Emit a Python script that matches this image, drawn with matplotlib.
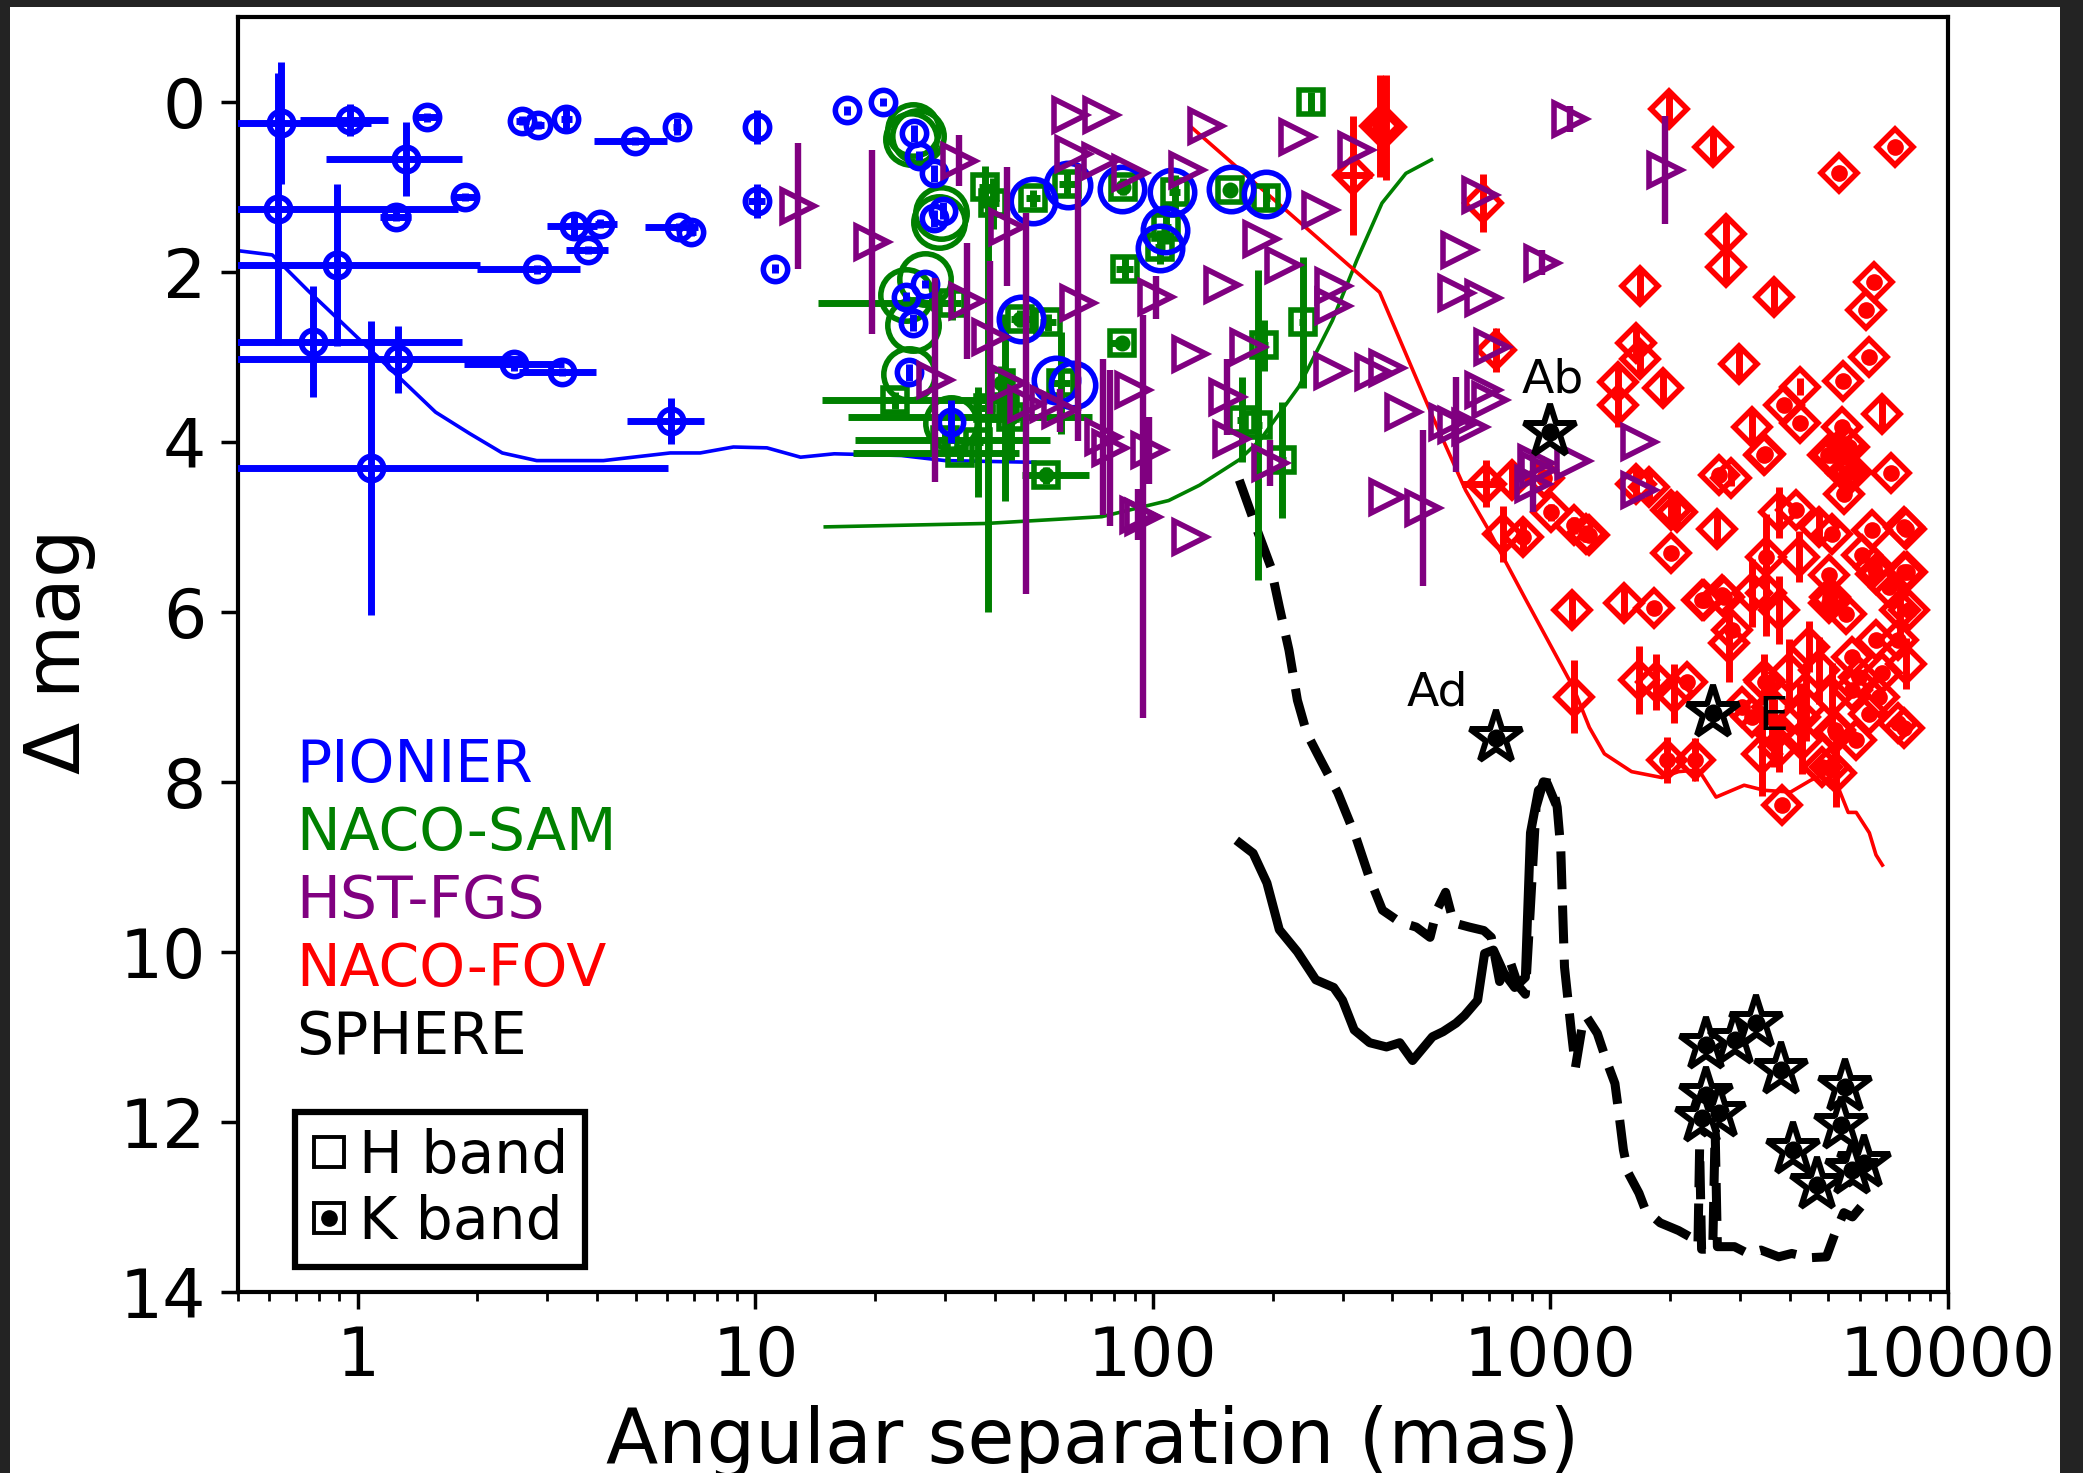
import numpy as np
import matplotlib
matplotlib.use('Agg')
import matplotlib.pyplot as plt
from matplotlib.lines import Line2D
from matplotlib.legend_handler import HandlerTuple
from matplotlib.patches import Rectangle
from matplotlib.ticker import NullFormatter, LogLocator

plt.rcParams['font.family'] = ['DejaVu Sans']

# ---------------- data ----------------
# PIONIER (H band): separation, dmag, separation lower/upper bound, dmag error
pio_sep = [0.64, 0.63, 0.955, 1.49, 1.32, 1.86, 1.25, 0.885, 2.82, 0.77, 1.26, 2.47, 3.27, 1.08,
           2.59, 2.84, 3.35, 4.97, 6.34, 3.5, 4.08, 3.79, 6.43, 6.9, 6.15, 10.1, 10.1, 11.2,
           17.0, 21.0, 25.1, 25.8, 28.2, 29.6, 28.2, 26.7, 23.9, 24.9, 24.4, 31.1]
pio_dm = [0.25, 1.26, 0.21, 0.18, 0.67, 1.12, 1.35, 1.92, 1.97, 2.82, 3.03, 3.08, 3.18, 4.31,
          0.22, 0.27, 0.20, 0.46, 0.29, 1.46, 1.43, 1.74, 1.47, 1.53, 3.75, 0.29, 1.16, 1.96,
          0.10, 0.00, 0.37, 0.63, 0.84, 1.28, 1.37, 2.14, 2.29, 2.60, 3.18, 3.76]
pio_lo = [0.40, 0.40, 0.715, 1.40, 0.83, 1.75, 1.14, 0.40, 2.0, 0.40, 0.40, 1.85, 2.54, 0.40,
          2.5, 2.75, 3.25, 3.94, 6.2, 3.0, 3.95, 3.35, 5.27, 6.7, 4.77, 9.9, 9.6, 11.0,
          16.8, 20.7, 24.8, 25.5, 27.9, 29.2, 27.9, 26.4, 23.6, 24.5, 24.0, 30.8]
pio_hi = [1.08, 1.79, 1.19, 1.58, 1.83, 1.98, 1.36, 2.03, 3.63, 1.83, 2.6, 3.3, 3.98, 6.05,
          2.7, 2.95, 3.45, 6.0, 6.5, 4.0, 4.5, 4.25, 7.17, 7.1, 7.44, 10.3, 10.6, 11.4,
          17.2, 21.3, 25.4, 26.1, 28.5, 30.0, 28.5, 27.0, 24.2, 25.3, 24.8, 31.4]
pio_err = [0.72, 1.60, 0.19, 0.05, 0.44, 0.05, 0.05, 0.95, 0.05, 0.65, 0.39, 0.08, 0.05, 1.73,
           0.05, 0.05, 0.17, 0.05, 0.10, 0.12, 0.05, 0.05, 0.05, 0.05, 0.27, 0.20, 0.20, 0.05,
           0.05, 0.05, 0.10, 0.05, 0.10, 0.10, 0.10, 0.05, 0.05, 0.10, 0.10, 0.25]

# large blue rings
ring_b_sep = [49.9, 61.2, 83.8, 112, 157, 193, 107, 104, 46.5, 57.2, 63.0]
ring_b_dm = [1.16, 0.98, 1.02, 1.06, 1.02, 1.08, 1.51, 1.72, 2.55, 3.27, 3.33]
# large green rings
ring_g_sep = [25.0, 25.6, 24.6, 29.3, 29.0, 26.7, 24.0, 24.9, 24.4, 31.0]
ring_g_dm = [0.33, 0.40, 0.44, 1.31, 1.41, 2.08, 2.27, 2.63, 3.20, 3.78]

# NACO-SAM
sam_sep = [37.8, 39.6, 50.0, 60.8, 84.1, 113.5, 156, 193, 108, 104, 85.3, 46.3, 54.5, 83.6,
           31.3, 41.6, 58.9, 44.1, 54.0, 32.7, 250, 190, 238, 168, 184, 211, 38.5, 30.0,
           22.5, 42.4, 36.3]
sam_dm = [1.00, 1.19, 1.13, 0.96, 1.00, 1.06, 1.04, 1.13, 1.47, 1.71, 1.96, 2.55, 2.59, 2.84,
          2.37, 3.31, 3.31, 3.71, 4.39, 4.13, 0.00, 2.86, 2.59, 3.74, 3.80, 4.21, 3.60, 3.98,
          3.51, 3.60, 4.00]
sam_lo = [36.5, 38.0, 48.0, 58.0, 82.0, 110, 153, 189, 105, 101, 81.0, 44.0, 52.0, 78.0,
          14.4, 39.0, 56.0, 17.1, 47.0, 17.6, 245, 185, 233, 163, 180, 206, 37.0, 17.8,
          14.7, 41.0, 35.0]
sam_hi = [39.2, 41.0, 52.0, 64.0, 86.0, 117, 159, 197, 111, 107, 89.0, 49.0, 57.0, 86.0,
          33.0, 44.0, 62.0, 70.3, 69.0, 46.0, 255, 195, 243, 173, 188, 216, 40.0, 55.0,
          42.5, 44.0, 37.5]
sam_err = [0.25, 0.30, 0.10, 0.15, 0.10, 0.20, 0.05, 0.15, 0.20, 0.20, 0.12, 0.10, 0.10, 0.05,
           0.20, 0.20, 0.60, 0.50, 0.10, 0.10, 0.12, 0.30, 0.77, 0.50, 1.82, 0.68, 2.40, 0.10,
           0.10, 1.10, 0.65]
sam_band = ['H', 'H', 'H', 'H', 'K', 'H', 'K', 'H', 'H', 'H', 'H', 'K', 'H', 'K',
            'H', 'K', 'H', 'K', 'K', 'H', 'H', 'H', 'H', 'H', 'H', 'H', 'H', 'H',
            'H', 'H', 'H']

# HST-FGS
fgs_sep = [12.8, 19.7, 32.6, 34.0, 38.9, 42.9, 63, 73.8, 62, 74, 136, 87.5, 122, 64.9, 102,
           149, 124, 89, 28.3, 58.4, 75, 78, 98, 91.6, 94.4, 124, 154, 157, 264, 324, 231,
           187, 213, 284, 284, 174, 283, 357, 387, 197, 425, 548, 627, 580, 387, 477, 664,
           590, 580, 675, 714, 675, 703, 955, 1117, 922, 1138, 902, 1945, 1674, 1674, 933,
           48, 43.3, 54.4]
fgs_dm = [1.22, 1.65, 0.69, 2.34, 2.77, 1.47, 0.61, 0.69, 0.15, 0.15, 0.28, 0.84, 0.80, 2.36,
          2.30, 2.15, 2.96, 3.39, 3.27, 3.63, 3.94, 4.07, 4.10, 4.86, 4.88, 5.12, 3.47, 3.96,
          1.27, 0.57, 0.41, 1.61, 1.92, 2.17, 2.40, 2.88, 3.16, 3.18, 3.13, 4.25, 3.65, 3.77,
          3.82, 3.80, 4.65, 4.78, 1.10, 1.74, 2.25, 2.31, 2.88, 3.39, 3.51, 1.89, 0.20, 4.25,
          4.22, 4.49, 0.80, 4.00, 4.57, 4.33, 3.55, 3.31, 3.55]
fgs_err = [0.74, 1.08, 0.30, 0.68, 0.90, 0.70, 0.0, 0.0, 0.0, 0.0, 0.0, 0.0, 0.0, 1.63, 0.25,
           0.0, 0.0, 0.0, 1.20, 0.25, 0.92, 0.92, 0.39, 0.30, 2.37, 0.0, 0.45, 0.0, 0.0, 0.0,
           0.0, 0.0, 0.0, 0.0, 0.0, 0.0, 0.0, 0.0, 0.0, 0.27, 0.0, 0.0, 0.0, 0.56, 0.0, 0.92,
           0.0, 0.0, 0.0, 0.0, 0.0, 0.0, 0.0, 0.15, 0.15, 0.0, 0.0, 0.33, 0.64, 0.0, 0.0, 0.0,
           2.24, 0.0, 0.0]

# NACO-FOV
fov_sep = [372, 385, 675, 731, 1476, 1476, 801, 759, 851, 1004, 1230, 966, 1148, 1991, 2567,
           5320, 7362, 2766, 2766, 1683, 3656, 6500, 6220, 1645, 1683, 2985, 6320, 5450, 4250,
           3870, 4250, 6840, 3216, 5420, 5520, 1918, 3475, 5000, 7190, 2660, 2840, 5740, 1645,
           1775, 2014, 2630, 2014, 1130, 1527, 1825, 2438, 2729, 1148, 1845, 2203, 1963, 2313,
           3830, 3475, 7745, 7745, 7745, 7570, 5877, 5060, 5200, 3656, 4250, 5060, 6500,
           3450, 5110, 5650, 5550, 5490, 2083, 1253, 4150, 3760, 4740, 5110, 6440, 7840, 3480,
           4225, 5020, 6080, 7880, 6590, 7110, 8000, 5020, 5550, 3760, 3480, 3220, 2410, 2700,
           2865, 2820, 4480, 5750, 6590, 7500, 7840, 3985, 4740, 5970, 6840, 3450, 2050, 3035,
           3220, 3610, 4400, 5110, 5750, 6710, 7500, 6320, 5230, 3410, 3760, 4300, 4810, 5230,
           1674]
fov_dm = [0.28, 0.30, 1.19, 2.92, 3.30, 3.57, 4.45, 5.08, 5.12, 4.83, 5.08, 4.42, 4.98, 0.08,
          0.53, 0.83, 0.53, 1.55, 1.94, 2.17, 2.29, 2.12, 2.45, 2.84, 3.02, 3.08, 3.00, 3.28,
          3.35, 3.57, 3.78, 3.67, 3.82, 3.82, 4.02, 3.37, 4.14, 4.16, 4.37, 4.39, 4.42, 4.36,
          4.49, 4.53, 4.80, 5.02, 5.31, 5.98, 5.90, 5.95, 5.86, 5.82, 7.00, 6.82, 6.82, 7.74,
          7.74, 8.27, 6.82, 7.37, 5.53, 5.00, 5.98, 7.51, 7.82, 7.39, 7.43, 7.24, 5.82, 5.47,
          4.16, 4.16, 4.06, 4.37, 4.61, 4.83, 5.10, 4.80, 4.83, 5.00, 5.08, 5.04, 5.02, 5.35,
          5.35, 5.57, 5.33, 5.53, 5.55, 5.71, 5.98, 5.90, 6.02, 5.98, 5.78, 5.78, 5.86, 5.80,
          6.21, 6.37, 6.41, 6.53, 6.33, 6.33, 6.61, 6.72, 6.69, 6.77, 6.72, 6.80, 6.96, 7.12,
          7.24, 7.12, 7.12, 7.00, 6.92, 7.00, 7.31, 7.20, 7.43, 7.67, 7.59, 7.51, 7.82, 7.90,
          6.80]
fov_err = [0.60, 0.62, 0.34, 0.26, 0.20, 0.25, 0.20, 0.33, 0.20, 0.10, 0.10, 0.10, 0.10, 0.20,
           0.20, 0.0, 0.0, 0.20, 0.20, 0.20, 0.20, 0.0, 0.0, 0.20, 0.20, 0.20, 0.0, 0.0,
           0.10, 0.0, 0.0, 0.20, 0.20, 0.0, 0.0, 0.20, 0.0, 0.0, 0.0, 0.0, 0.10, 0.0,
           0.20, 0.20, 0.20, 0.20, 0.0, 0.20, 0.20, 0.0, 0.0, 0.0, 0.43, 0.33, 0.0, 0.27,
           0.25, 0.0, 0.0, 0.0, 0.0, 0.0, 0.30, 0.0, 0.0, 0.0, 0.40, 0.40, 0.0, 0.0,
           0.0, 0.0, 0.0, 0.0, 0.0, 0.20, 0.0, 0.0, 0.30, 0.20, 0.0, 0.0, 0.0, 0.50,
           0.30, 0.0, 0.0, 0.0, 0.0, 0.0, 0.0, 0.0, 0.0, 0.40, 0.50, 0.40, 0.0, 0.0,
           0.0, 0.45, 0.30, 0.0, 0.0, 0.0, 0.30, 0.40, 0.40, 0.0, 0.0, 0.30, 0.35, 0.0,
           0.0, 0.40, 0.40, 0.40, 0.0, 0.0, 0.0, 0.0, 0.0, 0.50, 0.30, 0.40, 0.0, 0.40,
           0.40]
fov_band = ['K', 'H', 'H', 'H', 'H', 'H', 'H', 'H', 'K', 'K', 'K', 'K', 'K', 'H',
            'H', 'K', 'K', 'H', 'H', 'H', 'H', 'K', 'K', 'H', 'H', 'H', 'K', 'K',
            'H', 'K', 'K', 'H', 'H', 'K', 'K', 'H', 'K', 'K', 'K', 'K', 'H', 'K',
            'H', 'H', 'H', 'H', 'K', 'H', 'H', 'K', 'K', 'K', 'H', 'H', 'K', 'K',
            'K', 'K', 'K', 'K', 'K', 'K', 'H', 'K', 'K', 'K', 'H', 'H', 'K', 'K',
            'K', 'K', 'K', 'K', 'K', 'H', 'K', 'K', 'H', 'H', 'K', 'K', 'K', 'K',
            'H', 'K', 'K', 'K', 'K', 'K', 'K', 'K', 'K', 'H', 'H', 'H', 'K', 'K',
            'K', 'H', 'H', 'K', 'K', 'K', 'H', 'H', 'H', 'K', 'K', 'H', 'H', 'K',
            'K', 'H', 'H', 'H', 'K', 'K', 'K', 'K', 'K', 'H', 'H', 'H', 'K', 'H',
            'H']
# NACO-FOV points with separation error bars
fovx_sep = [318, 690]
fovx_dm = [0.86, 4.49]
fovx_lo = [290, 600]
fovx_hi = [355, 755]
fovx_err = [0.70, 0.28]

# SPHERE (K band)
sph_sep = [995, 728, 2565, 2466, 2916, 3296, 3810, 2466, 2660, 2410, 5520, 4080, 5380, 6150,
           4690, 5750]
sph_dm = [3.88, 7.49, 7.19, 11.10, 11.04, 10.84, 11.39, 11.69, 11.90, 11.96, 11.59, 12.33,
          12.04, 12.49, 12.74, 12.57]
sph_names = ['Ab', 'Ad', 'E']
sph_name_sep = [1014, 520, 3335]
sph_name_dm = [3.42, 7.10, 7.39]

# detection limits
pio_lim_sep = [0.50, 0.61, 0.75, 0.90, 1.57, 1.91, 2.31, 2.82, 4.15, 6.11, 7.27, 8.81, 10.7,
               13.0, 15.8, 23.3, 30.0, 50.5]
pio_lim_dm = [1.75, 1.80, 2.22, 2.57, 3.65, 3.90, 4.13, 4.22, 4.22, 4.13, 4.13, 4.06, 4.07,
              4.18, 4.14, 4.16, 4.22, 4.24]
sam_lim_sep = [15.0, 38, 74.4, 109.6, 131, 165, 186, 233, 283, 326, 377, 433, 502]
sam_lim_dm = [5.00, 4.96, 4.88, 4.69, 4.51, 4.21, 3.98, 3.35, 2.57, 1.86, 1.19, 0.84, 0.68]
fov_lim_sep = [124.5, 372, 502, 612, 700, 868, 1142, 1253, 1367, 1600, 1907, 2100, 2360,
               2610, 3070, 3450, 4020, 4520, 4950, 5330, 5610, 5877, 6340, 6590, 6840]
fov_lim_dm = [0.29, 2.24, 3.67, 4.57, 5.04, 5.86, 6.89, 7.36, 7.67, 7.88, 7.95, 7.88, 7.86,
              8.18, 8.04, 8.10, 8.12, 7.98, 7.90, 8.10, 8.36, 8.36, 8.60, 8.86, 8.98]
sph_lim1_sep = [165.5, 178.7, 193.6, 208, 231, 257, 285, 300, 321, 351, 387, 418, 450, 505,
                537, 579, 608, 656, 683, 719, 764, 813, 865, 891, 933, 982, 1023]
sph_lim1_dm = [8.72, 8.84, 9.19, 9.74, 10.00, 10.33, 10.42, 10.57, 10.92, 11.07, 11.12, 11.07,
               11.28, 11.00, 10.94, 10.84, 10.75, 10.57, 10.02, 9.98, 10.25, 10.42, 10.30,
               8.60, 8.10, 8.02, 8.22]
sph_lim2_sep = [165, 184, 198, 208, 220, 231, 244, 264, 292, 324, 350, 378, 418, 460, 498,
                518, 545, 571, 626, 680, 710, 745, 790, 830, 865, 890, 920, 960, 1009, 1040,
                1062, 1075, 1085, 1130, 1156, 1200, 1231, 1312, 1383, 1453, 1490, 1526, 1568,
                1670, 1734, 1889, 2100, 2313, 2350, 2373, 2400, 2560, 2596, 2630, 2904, 3137,
                3385, 3750, 4047, 4480, 4945, 5200, 5470, 5750, 6040]
sph_lim2_dm = [4.45, 5.07, 5.47, 5.94, 6.45, 7.04, 7.43, 7.74, 8.13, 8.65, 9.12, 9.51, 9.65,
               9.71, 9.83, 9.51, 9.30, 9.66, 9.71, 9.75, 9.83, 10.35, 10.10, 10.40, 10.50,
               9.50, 8.30, 8.00, 8.02, 8.30, 8.80, 9.60, 10.18, 10.96, 11.36, 10.90, 10.76,
               10.96, 11.28, 11.55, 11.94, 12.33, 12.60, 12.84, 13.04, 13.19, 13.28, 13.39,
               13.45, 12.30, 13.50, 13.50, 12.10, 13.47, 13.47, 13.55, 13.51, 13.59, 13.55,
               13.60, 13.59, 13.31, 13.07, 13.12, 13.00]

group_labels = ['PIONIER', 'NACO-SAM', 'HST-FGS', 'NACO-FOV', 'SPHERE']
group_label_dm = [8.0, 8.8, 9.6, 10.4, 11.2]
x_ticks = [1, 10, 100, 1000, 10000]
x_ticklabels = ['1', '10', '100', '1000', '10000']
y_ticks = [0, 2, 4, 6, 8, 10, 12, 14]

# ---------------- styling ----------------
C_B, C_G, C_P, C_R, C_K = '#0000ff', '#008000', '#800080', '#ff0000', '#000000'
MEW = 4.0
ELW = 5.0

fig = plt.figure(figsize=(20.83, 14.73), dpi=100)
fig.patch.set_facecolor('white')
for (x0, y0, w, h) in [(0, 0, 10 / 2083, 1), (0, 1 - 7 / 1473, 1, 7 / 1473),
                       (2060 / 2083, 0, 23 / 2083, 1)]:
    fig.add_artist(Rectangle((x0, y0), w, h, transform=fig.transFigure,
                             facecolor='#232323', edgecolor='none', zorder=-10))

ax = fig.add_axes([238 / 2083, 1 - 1291.7 / 1473, 1710 / 2083, 1274.7 / 1473])
ax.set_xscale('log')
ax.set_xlim(0.5, 10000)
ax.set_ylim(14, -1)

# limit curves
ax.plot(pio_lim_sep, pio_lim_dm, color=C_B, lw=2.6, zorder=1)
ax.plot(sam_lim_sep, sam_lim_dm, color=C_G, lw=2.6, zorder=1)
ax.plot(fov_lim_sep, fov_lim_dm, color=C_R, lw=2.6, zorder=1)
ax.plot(sph_lim1_sep, sph_lim1_dm, color=C_K, lw=6.5, zorder=1, solid_joinstyle='round')
ax.plot(sph_lim2_sep, sph_lim2_dm, color=C_K, lw=6.5, zorder=1, ls=(0, (4.2, 1.8)))


def kmask(bands):
    return np.array([b == 'K' for b in bands])


# NACO-FOV
fs, fd, fe = np.array(fov_sep), np.array(fov_dm), np.array(fov_err)
ax.errorbar(fs, fd, yerr=fe, fmt='none', ecolor=C_R, elinewidth=ELW, capsize=0, zorder=2)
xs, xd = np.array(fovx_sep), np.array(fovx_dm)
ax.errorbar(xs, xd, xerr=[xs - np.array(fovx_lo), np.array(fovx_hi) - xs], yerr=fovx_err,
            fmt='none', ecolor=C_R, elinewidth=ELW, capsize=0, zorder=2)
ax.plot(np.r_[fs, xs], np.r_[fd, xd], 'D', ms=18, mfc='none', mec=C_R, mew=MEW, zorder=2)
km = kmask(fov_band)
ax.plot(fs[km], fd[km], 'o', ms=12, color=C_R, mec='none', zorder=2)

# NACO-SAM
ax.plot(ring_g_sep, ring_g_dm, 'o', ms=37, mfc='none', mec=C_G, mew=MEW, zorder=3)
ss, sd = np.array(sam_sep), np.array(sam_dm)
ax.errorbar(ss, sd, xerr=[ss - np.array(sam_lo), np.array(sam_hi) - ss], yerr=sam_err,
            fmt='none', ecolor=C_G, elinewidth=ELW, capsize=0, zorder=3)
ax.plot(ss, sd, 's', ms=17.5, mfc='none', mec=C_G, mew=MEW, zorder=3)
km = kmask(sam_band)
ax.plot(ss[km], sd[km], 'o', ms=11.5, color=C_G, mec='none', zorder=3)

# PIONIER
ax.plot(ring_b_sep, ring_b_dm, 'o', ms=32, mfc='none', mec=C_B, mew=MEW, zorder=4)
ps, pd = np.array(pio_sep), np.array(pio_dm)
ax.errorbar(ps, pd, xerr=[ps - np.array(pio_lo), np.array(pio_hi) - ps], yerr=pio_err,
            fmt='none', ecolor=C_B, elinewidth=ELW, capsize=0, zorder=4)
ax.plot(ps, pd, 'o', ms=17.5, mfc='none', mec=C_B, mew=MEW, zorder=4)

# HST-FGS
ax.errorbar(fgs_sep, fgs_dm, yerr=fgs_err, fmt='none', ecolor=C_P, elinewidth=4.6,
            capsize=0, zorder=5)
ax.plot(fgs_sep, fgs_dm, '>', ms=23, mfc='none', mec=C_P, mew=MEW, zorder=5)

# SPHERE
ax.plot(sph_sep, sph_dm, '*', ms=40, mfc='white', mec=C_K, mew=4.3, zorder=6)
ax.plot(sph_sep, sph_dm, 'o', ms=13, color=C_K, mec='none', zorder=6)
for name, xv, yv in zip(sph_names, sph_name_sep, sph_name_dm):
    ax.text(xv, yv, name, fontsize=34, ha='center' if name != 'E' else 'left',
            va='baseline', color=C_K, zorder=7)

# group labels
for lab, yv, c in zip(group_labels, group_label_dm, [C_B, C_G, C_P, C_R, C_K]):
    ax.text(0.70, yv, lab, color=c, fontsize=42, va='baseline', ha='left', zorder=7)

# band legend
h_sq = Line2D([], [], ls='none', marker='s', ms=21, mfc='white', mec='k', mew=2.8)
h_dot = Line2D([], [], ls='none', marker='o', ms=12, color='k', mec='none')
leg = ax.legend([h_sq, (h_sq, h_dot)], ['H band', 'K band'],
                handler_map={tuple: HandlerTuple(ndivide=1, pad=0)},
                loc='lower left', bbox_to_anchor=(0.0333, 0.0194), borderaxespad=0,
                fontsize=42, frameon=True, fancybox=False, edgecolor='k', framealpha=1,
                handlelength=0.6, handletextpad=0.22, borderpad=0.28, labelspacing=0.15)
leg.get_frame().set_linewidth(4.5)
leg.set_zorder(8)

# axes styling
ax.set_xticks(x_ticks)
ax.set_xticklabels(x_ticklabels)
ax.xaxis.set_minor_locator(LogLocator(base=10, subs=np.arange(2, 10), numticks=20))
ax.xaxis.set_minor_formatter(NullFormatter())
ax.set_yticks(y_ticks)
ax.set_yticklabels([str(v) for v in y_ticks])
ax.tick_params(which='major', direction='out', length=12, width=2.5, labelsize=49, pad=11)
ax.tick_params(which='minor', direction='out', length=6.5, width=2)
for sp in ax.spines.values():
    sp.set_linewidth(3)

ax.set_xlabel('Angular separation (mas)', fontsize=55)
ax.xaxis.label.set_va('baseline')
ax.xaxis.set_label_coords(0.5, (1291.7 - 1463) / 1274.7)
ax.set_ylabel(r'$\Delta$ mag', fontsize=55)
ax.yaxis.label.set_va('baseline')
ax.yaxis.set_label_coords((80 - 238) / 1710, 0.5)

fig.savefig('out.png', dpi=100)
